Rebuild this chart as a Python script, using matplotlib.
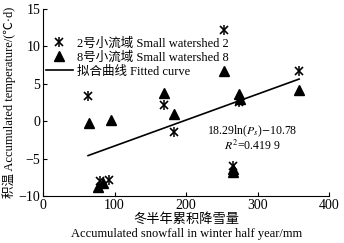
import matplotlib
matplotlib.use("Agg")
import matplotlib.pyplot as plt
from matplotlib.lines import Line2D

plt.rcParams['font.family'] = ['Liberation Serif', 'Noto Sans CJK SC', 'DejaVu Sans']
plt.rcParams['mathtext.fontset'] = 'stix'

# Small watershed 2 (asterisks)
ws2_x = [63, 80, 92, 169, 183, 253, 265, 274, 358]
ws2_y = [3.3, -8.0, -7.8, 2.1, -1.5, 12.2, -6.0, 2.6, 6.7]
# Small watershed 8 (triangles)
ws8_x = [64, 77, 84, 95, 169, 183, 253, 265, 266, 274, 275, 358]
ws8_y = [-0.3, -8.8, -8.2, 0.2, 3.7, 1.0, 6.7, -6.4, -6.8, 3.6, 3.0, 4.2]
# Fitted curve endpoints (as drawn)
fit_x = [63, 358]
fit_y = [-4.6, 5.6]

xticks = [0, 100, 200, 300, 400]
yticks = [-10, -5, 0, 5, 10, 15]

fig = plt.figure(figsize=(3.44, 2.43), dpi=100)
ax = fig.add_axes([0.125, 0.193, 0.832, 0.772])

def draw_star(x, y):
    ax.plot(x, y, linestyle='none', marker='x', markersize=6,
            markeredgewidth=1.2, color='black', zorder=3)
    ax.plot(x, y, linestyle='none', marker='|', markersize=7,
            markeredgewidth=1.1, color='black', zorder=3)

draw_star(ws2_x, ws2_y)
ax.plot(ws8_x, ws8_y, linestyle='none', marker='^', markersize=6.5,
        color='black', zorder=3)
ax.plot(fit_x, fit_y, color='black', linewidth=1.2, zorder=2)

ax.set_xlim(0, 400)
ax.set_ylim(-10, 15)
ax.set_xticks(xticks)
ax.set_yticks(yticks)
ax.set_yticklabels(['\u221210', '\u22125', '0', '5', '10', '15'])
ax.tick_params(direction='in', length=3, width=0.8, labelsize=10, pad=2)
for s in ['top', 'right']:
    ax.spines[s].set_visible(False)
for s in ['left', 'bottom']:
    ax.spines[s].set_linewidth(0.8)

star_handle = (Line2D([], [], linestyle='none', marker='x', markersize=6, markeredgewidth=1.2, color='black'),
               Line2D([], [], linestyle='none', marker='|', markersize=7, markeredgewidth=1.1, color='black'))
handles = [
    star_handle,
    Line2D([], [], linestyle='none', marker='^', markersize=6.5, color='black'),
    Line2D([], [], color='black', linewidth=1.2),
]
labels = ['2号小流域 Small watershed 2', '8号小流域 Small watershed 8', '拟合曲线 Fitted curve']
ax.legend(handles, labels, loc='upper left', bbox_to_anchor=(0.0, 0.86), frameon=False,
          fontsize=9, handlelength=2.2, handletextpad=0.3, labelspacing=0.15,
          borderpad=0.1, borderaxespad=0.1)

ax.text(292, -1.3, r'18.29ln($P_s$)$-$10.78', ha='center', va='center', fontsize=8.5)
ax.text(292, -3.3, r'$R^2$=0.419 9', ha='center', va='center', fontsize=8.5)

ax.set_ylabel('积温 Accumulated temperature/(℃·d)', fontsize=9, labelpad=2)
ax.text(0.5, -0.128, '冬半年累积降雪量', transform=ax.transAxes, ha='center', va='center', fontsize=9.5)
ax.text(0.5, -0.2, 'Accumulated snowfall in winter half year/mm', transform=ax.transAxes,
        ha='center', va='center', fontsize=9)

fig.savefig('out.png', dpi=100)
